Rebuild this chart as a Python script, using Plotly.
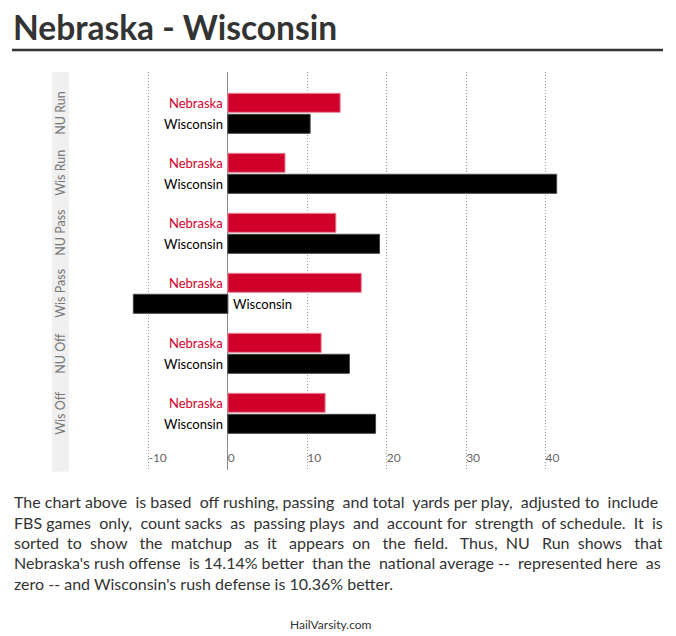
import plotly.graph_objects as go

categories = ["NU Run", "Wis Run", "NU Pass", "Wis Pass", "NU Off", "Wis Off"]
nebraska = [14.14, 7.2, 13.6, 16.8, 11.75, 12.25]
wisconsin = [10.36, 41.4, 19.1, -11.9, 15.3, 18.6]
x_ticks = [-10, 0, 10, 20, 30, 40]

body_lines = [
    "The chart above is based off rushing, passing and total yards per play, adjusted to include",
    "FBS games only, count sacks as passing plays and account for strength of schedule. It is",
    "sorted to show the matchup as it appears on the field. Thus, NU Run shows that",
    "Nebraska's rush offense is 14.14% better than the national average -- represented here as",
    "zero -- and Wisconsin's rush defense is 10.36% better.",
]
# extra non-breaking spaces used to imitate the justified paragraph
justify_extra = [6, 10, 22, 5, 0]

OFF = 8  # page body margin
W, H = 676 - OFF, 636 - OFF
L, T = 69 - OFF, 72 - OFF
PB = 470 - OFF
PR = 567 - OFF
R, B = W - PR, H - PB
PW, PH = PR - L, PB - T
FONT = "Lato, 'Open Sans', sans-serif"
RED = "#d0002b"

def px(x):
    return (x - OFF - L) / PW

def py(y):
    return (PB - (y - OFF)) / PH

def justify(line, extra):
    words = line.split(" ")
    gaps = len(words) - 1
    if extra <= 0 or gaps <= 0:
        return line
    out = words[0]
    for i, w in enumerate(words[1:]):
        n = (extra * (i + 1)) // gaps - (extra * i) // gaps
        out += " " + "\u00a0" * n + w
    return out

fig = go.Figure()
fig.add_trace(go.Bar(
    y=categories, x=nebraska, orientation="h", name="Nebraska",
    width=0.317, offset=-0.333,
    marker=dict(color=RED, line=dict(color="#e8899a", width=1)),
    hoverinfo="x+y",
))
fig.add_trace(go.Bar(
    y=categories, x=wisconsin, orientation="h", name="Wisconsin",
    width=0.317, offset=0.017,
    marker=dict(color="#000000", line=dict(color="#444444", width=1)),
    hoverinfo="x+y",
))

annotations = []
for c, nv, wv in zip(categories, nebraska, wisconsin):
    annotations.append(dict(
        x=0, y=c, xref="x", yref="y", text="Nebraska", showarrow=False,
        xanchor="right" if nv >= 0 else "left", xshift=-3 if nv >= 0 else 3,
        yshift=10.3, font=dict(family=FONT, size=13, color=RED),
    ))
    annotations.append(dict(
        x=0, y=c, xref="x", yref="y", text="Wisconsin", showarrow=False,
        xanchor="right" if wv >= 0 else "left", xshift=-3 if wv >= 0 else 3,
        yshift=-10.3, font=dict(family=FONT, size=13, color="#000000"),
    ))
    annotations.append(dict(
        x=px(60.5), y=c, xref="paper", yref="y", text=c, showarrow=False,
        textangle=-90, xanchor="center", yanchor="middle",
        font=dict(family=FONT, size=12.5, color="#777777"),
    ))

annotations.append(dict(
    x=px(11), y=py(27), xref="paper", yref="paper", text="<b>Nebraska - Wisconsin</b>",
    showarrow=False, xanchor="left", yanchor="middle",
    font=dict(family=FONT, size=33.5, color="#333333"),
))
for i, (line, extra) in enumerate(zip(body_lines, justify_extra)):
    annotations.append(dict(
        x=px(12), y=py(501.7 + 20.4 * i), xref="paper", yref="paper",
        text=justify(line, extra),
        showarrow=False, xanchor="left", yanchor="middle",
        font=dict(family=FONT, size=16, color="#333333"),
    ))
annotations.append(dict(
    x=px(331), y=py(624.3), xref="paper", yref="paper", text="HailVarsity.com",
    showarrow=False, xanchor="center", yanchor="middle",
    font=dict(family=FONT, size=12, color="#333333"),
))

shapes = [
    dict(type="rect", xref="paper", yref="paper", x0=px(52), x1=px(69), y0=py(471.5), y1=py(72),
         fillcolor="#f0f0f0", line=dict(width=0), layer="below"),
    dict(type="line", xref="paper", yref="paper", x0=px(12), x1=px(663), y0=py(50), y1=py(50),
         line=dict(color="#333333", width=2.5)),
]

fig.update_layout(
    width=W, height=H,
    margin=dict(l=L, r=R, t=T, b=B, pad=0),
    paper_bgcolor="white", plot_bgcolor="white",
    showlegend=False,
    barmode="overlay",
    annotations=annotations,
    shapes=shapes,
    xaxis=dict(
        range=[-20, 42.7], tickvals=x_ticks, ticktext=[str(v) for v in x_ticks],
        ticklabelposition="inside right", showgrid=True, gridcolor="#9a9a9a",
        griddash="1px,2px", gridwidth=1, zeroline=True, zerolinecolor="#888888",
        zerolinewidth=1, showline=False, ticks="",
        tickfont=dict(family=FONT, size=12, color="#666666"),
    ),
    yaxis=dict(
        type="category", categoryorder="array", categoryarray=categories,
        range=[5.945, -0.688], showticklabels=False, showgrid=False,
        zeroline=False, showline=False, ticks="",
    ),
)

fig.write_html("out.html")
